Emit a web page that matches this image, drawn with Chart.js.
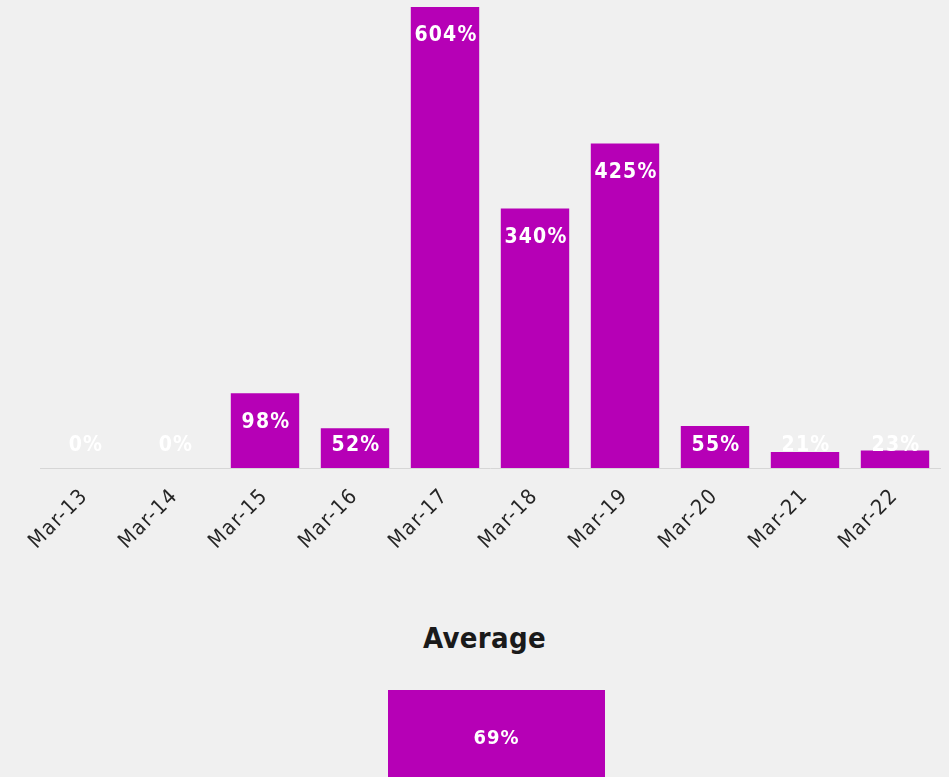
<!DOCTYPE html>
<html>
<head>
<meta charset="utf-8">
<script src="https://cdn.jsdelivr.net/npm/chart.js@4.4.1/dist/chart.umd.min.js"></script>
<style>
  html, body { margin: 0; padding: 0; background: #f0f0f0; overflow: hidden; width: 949px; height: 777px; }
  #main { position: absolute; left: 0; top: 0; width: 949px; height: 568px; }
  #avgTitle { position: absolute; left: 0; top: 621px; width: 969px; text-align: center; line-height: 34px;
              font: bold 29px "DejaVu Sans Condensed", sans-serif; letter-spacing: 0.3px; color: #1a1a1a; }
  #avg { position: absolute; left: 388px; top: 680px; width: 217px; height: 130px; }
</style>
</head>
<body>
<div id="main"><canvas id="dailyChart"></canvas></div>
<div id="avgTitle">Average</div>
<div id="avg"><canvas id="avgChart"></canvas></div>
<script>
// Daily growth, in percent
const days = ['Mar-13', 'Mar-14', 'Mar-15', 'Mar-16', 'Mar-17', 'Mar-18', 'Mar-19', 'Mar-20', 'Mar-21', 'Mar-22'];
const growthPct = [0, 0, 98, 52, 604, 340, 425, 55, 21, 23];

// Average over the period
const averageCategory = ['Average'];
const averagePct = [69];

const BAR = '#b600b6';
const LABEL_FONT = 'bold 21px "DejaVu Sans Condensed", sans-serif';

// White value labels at the top inside each bar, kept above the baseline for short bars
const dailyLabels = {
  id: 'dailyLabels',
  afterDatasetsDraw(chart) {
    const ctx = chart.ctx;
    const base = chart.scales.y.getPixelForValue(0);
    ctx.save();
    ctx.font = LABEL_FONT;
    ctx.letterSpacing = '1.2px';
    ctx.fillStyle = '#ffffff';
    ctx.textAlign = 'center';
    ctx.textBaseline = 'middle';
    chart.getDatasetMeta(0).data.forEach((bar, i) => {
      const y = Math.min(bar.y + 29, base - 22);
      ctx.fillText(growthPct[i] + '%', bar.x + 1, y);
    });
    ctx.restore();
  }
};

// Slightly spaced lettering for the axis text
const spacedTicks = {
  id: 'spacedTicks',
  beforeDraw(chart) { chart.ctx.letterSpacing = '1.5px'; },
  afterDraw(chart) { chart.ctx.letterSpacing = '0px'; }
};

new Chart(document.getElementById('dailyChart'), {
  type: 'bar',
  data: {
    labels: days,
    datasets: [{
      data: growthPct,
      backgroundColor: BAR,
      borderWidth: 0,
      categoryPercentage: 0.76,
      barPercentage: 1
    }]
  },
  options: {
    responsive: true,
    maintainAspectRatio: false,
    animation: false,
    layout: { padding: { left: 40, right: 9, top: 7, bottom: 0 } },
    plugins: { legend: { display: false }, tooltip: { enabled: false } },
    scales: {
      x: {
        grid: { display: false, drawTicks: false },
        border: { display: true, color: '#d6d6d6', width: 1 },
        ticks: {
          color: '#262626',
          font: { family: '"DejaVu Sans Condensed", sans-serif', size: 21 },
          minRotation: 45,
          maxRotation: 45,
          padding: 16
        },
        afterFit(scale) {
          scale.height = 100;
          scale.paddingLeft = 0;
          scale.paddingRight = 0;
        }
      },
      y: { display: false, min: 0, max: 604 }
    }
  },
  plugins: [dailyLabels, spacedTicks]
});

// Value label drawn inside the average bar
const avgLabel = {
  id: 'avgLabel',
  afterDatasetsDraw(chart) {
    const ctx = chart.ctx;
    const bar = chart.getDatasetMeta(0).data[0];
    ctx.save();
    ctx.font = 'bold 20px "DejaVu Sans Condensed", sans-serif';
    ctx.letterSpacing = '1px';
    ctx.fillStyle = '#ffffff';
    ctx.textAlign = 'center';
    ctx.textBaseline = 'middle';
    ctx.fillText(averagePct[0] + '%', bar.x, bar.y + 48);
    ctx.restore();
  }
};

new Chart(document.getElementById('avgChart'), {
  type: 'bar',
  data: {
    labels: averageCategory,
    datasets: [{
      data: averagePct,
      backgroundColor: BAR,
      borderWidth: 0,
      categoryPercentage: 1,
      barPercentage: 1
    }]
  },
  options: {
    responsive: true,
    maintainAspectRatio: false,
    animation: false,
    layout: { padding: 0 },
    plugins: { legend: { display: false }, tooltip: { enabled: false } },
    scales: {
      x: { display: false },
      y: { display: false, min: 0, max: 75 }
    }
  },
  plugins: [avgLabel]
});
</script>
</body>
</html>
